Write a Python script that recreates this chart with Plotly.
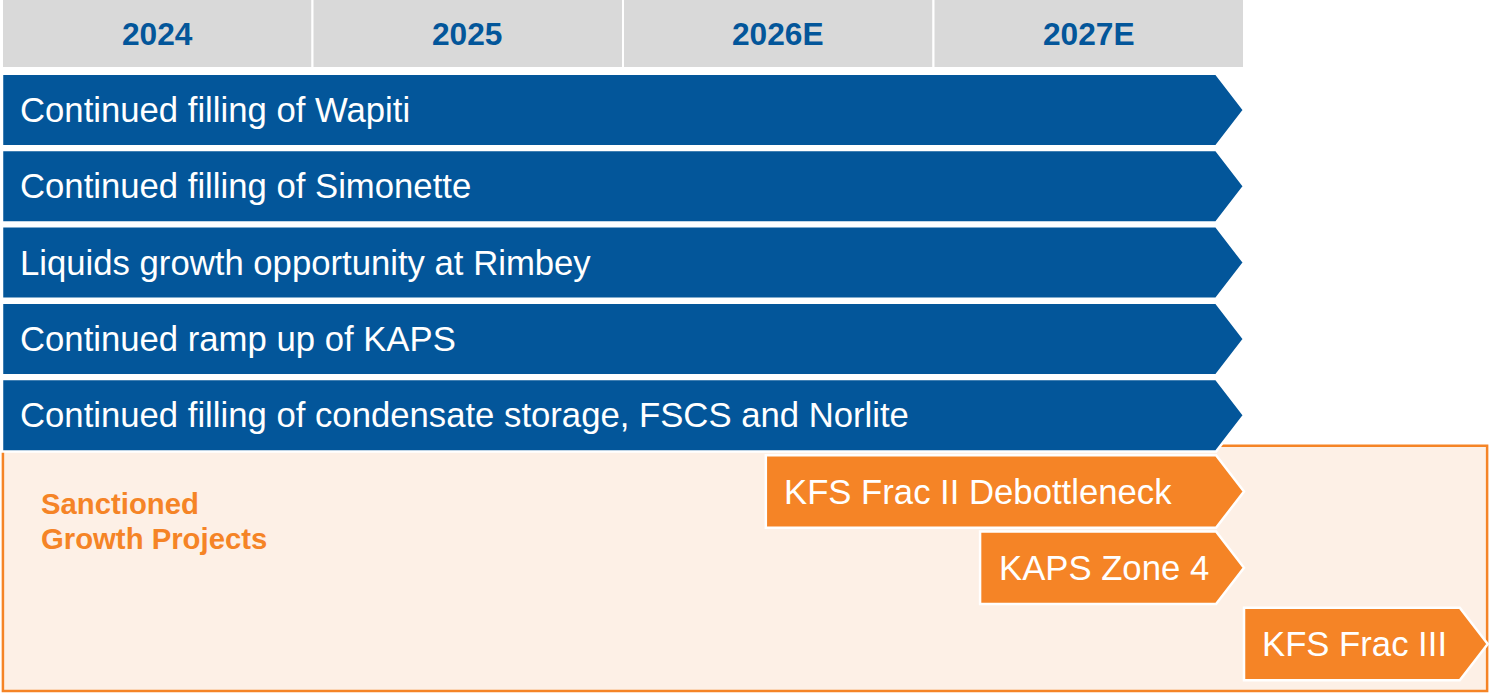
import plotly.graph_objects as go

# ---------------- data ----------------
years = ["2024", "2025", "2026E", "2027E"]
year_starts = [2024, 2025, 2026, 2027]

base_tasks = [
    "Continued filling of Wapiti",
    "Continued filling of Simonette",
    "Liquids growth opportunity at Rimbey",
    "Continued ramp up of KAPS",
    "Continued filling of condensate storage, FSCS and Norlite",
]
base_start = [2024.0, 2024.0, 2024.0, 2024.0, 2024.0]
base_end = [2028.0, 2028.0, 2028.0, 2028.0, 2028.0]
base_row = [0, 1, 2, 3, 4]

growth_label_lines = ["Sanctioned", "Growth Projects"]
growth_tasks = ["KFS Frac II Debottleneck", "KAPS Zone 4", "KFS Frac III"]
growth_start = [2026.46, 2027.15, 2028.0]
growth_end = [2028.0, 2028.0, 2028.785]
growth_row = [5, 6, 7]

# ---------------- style ----------------
BLUE = "#03569A"
ORANGE = "#F58426"
ORANGE_FILL = "#FDF0E6"
GREY = "#D9D9D9"
FONT = "Arial, 'Liberation Sans', sans-serif"

X_RANGE = [2023.9936, 2028.7955]
Y_RANGE = [7.654, -1.4417]
HALF = 0.475     # half bar height (rows)
TIP = 0.09       # arrow tip length (years)
PAD = 0.053      # text padding (years)
BAR_FONT = 34.7


def arrow_path(x0, x1, yc):
    y0, y1 = yc - HALF, yc + HALF
    return (f"M {x0},{y0} L {x1 - TIP},{y0} L {x1},{yc} "
            f"L {x1 - TIP},{y1} L {x0},{y1} Z")


shapes = []
annotations = []

# header cells
for lab, ys in zip(years, year_starts):
    shapes.append(dict(type="rect", xref="x", yref="y", x0=ys, x1=ys + 1,
                       y0=-1.47, y1=-0.55, fillcolor=GREY,
                       line=dict(color="white", width=2), layer="below"))
    annotations.append(dict(x=ys + 0.5, y=-0.996, xref="x", yref="y",
                            text=f"<b>{lab}</b>", showarrow=False,
                            xanchor="center", yanchor="middle",
                            font=dict(family=FONT, size=31.7, color=BLUE)))

# sanctioned growth box
shapes.append(dict(type="rect", xref="x", yref="y", x0=2024.003, x1=2028.783,
                   y0=4.40, y1=7.615, fillcolor=ORANGE_FILL,
                   line=dict(color=ORANGE, width=2.5), layer="below"))
for line_txt, yy in zip(growth_label_lines, [5.151, 5.610]):
    annotations.append(dict(x=2024.120, y=yy, xref="x", yref="y",
                            text=f"<b>{line_txt}</b>", showarrow=False,
                            xanchor="left", yanchor="middle", align="left",
                            font=dict(family=FONT, size=29.3, color=ORANGE)))

# base business arrows
for t, s, e, r in zip(base_tasks, base_start, base_end, base_row):
    shapes.append(dict(type="path", xref="x", yref="y", path=arrow_path(s, e, r),
                       fillcolor=BLUE, line=dict(color="white", width=2.5)))
    annotations.append(dict(x=s + PAD, y=r, xref="x", yref="y", text=t,
                            showarrow=False, xanchor="left", yanchor="middle",
                            font=dict(family=FONT, size=BAR_FONT, color="white")))

# growth project arrows
for t, s, e, r in zip(growth_tasks, growth_start, growth_end, growth_row):
    shapes.append(dict(type="path", xref="x", yref="y", path=arrow_path(s, e, r),
                       fillcolor=ORANGE, line=dict(color="white", width=2.5)))
    annotations.append(dict(x=s + PAD, y=r, xref="x", yref="y", text=t,
                            showarrow=False, xanchor="left", yanchor="middle",
                            font=dict(family=FONT, size=BAR_FONT, color="white")))

fig = go.Figure()
fig.update_layout(
    width=1491, height=694,
    margin=dict(l=0, r=0, t=0, b=0),
    paper_bgcolor="white", plot_bgcolor="white",
    xaxis=dict(range=X_RANGE, visible=False, fixedrange=True),
    yaxis=dict(range=Y_RANGE, visible=False, fixedrange=True),
    shapes=shapes, annotations=annotations, showlegend=False,
)
fig.write_html("out.html", config={"displayModeBar": False},
               post_script="document.body.style.margin='0';document.body.style.overflow='hidden';")
